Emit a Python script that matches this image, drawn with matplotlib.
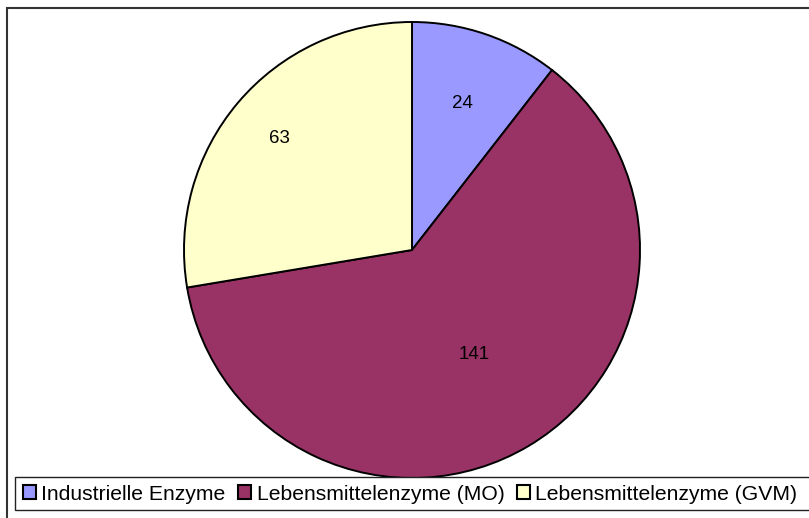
import matplotlib
matplotlib.use("Agg")
import matplotlib.pyplot as plt
from matplotlib.patches import Rectangle
import numpy as np

plt.rcParams['font.family'] = ['Liberation Sans', 'DejaVu Sans']

categories = ["Industrielle Enzyme", "Lebensmittelenzyme (MO)", "Lebensmittelenzyme (GVM)"]
values = [24, 141, 63]
colors = ["#9999FF", "#993366", "#FFFFCC"]
label_radius = [0.68, 0.535, 0.76]

W, H = 809, 518
fig = plt.figure(figsize=(W / 100, H / 100), dpi=100)
cx, cy, R = 412, 250, 228
ax = fig.add_axes([(cx - R) / W, 1 - (cy + R) / H, 2 * R / W, 2 * R / H])
wedges, texts = ax.pie(values, colors=colors, startangle=90, counterclock=False,
                       radius=1, labels=[str(v) for v in values], labeldistance=0.6,
                       wedgeprops=dict(edgecolor="black", linewidth=1.4),
                       textprops=dict(fontsize=13.5, color="black", ha="center", va="center"))
for w, t, rf in zip(wedges, texts, label_radius):
    ang = np.deg2rad((w.theta1 + w.theta2) / 2)
    t.set_position((rf * np.cos(ang), rf * np.sin(ang)))
    t.set_ha("center")
    t.set_va("center")
ax.set_xlim(-1, 1)
ax.set_ylim(-1, 1)
ax.set_aspect("equal")
ax.axis("off")

# outer chart border
fig.add_artist(Rectangle((7 / W, -0.1), 1.2, 1 - 8 / H + 0.1, transform=fig.transFigure,
                         fill=False, edgecolor="#333333", linewidth=1.5, zorder=0))
# legend frame
fig.add_artist(Rectangle((15 / W, 1 - 509.5 / H), 1.2, 33 / H, transform=fig.transFigure,
                         facecolor="white", edgecolor="#222222", linewidth=1.0, zorder=5))
leg = fig.legend(wedges, categories, loc="center left",
                 bbox_to_anchor=(23 / W, 1 - 494 / H), ncol=3, frameon=False,
                 fontsize=15.2, handlelength=0.62, handleheight=0.65, handletextpad=0.25,
                 columnspacing=0.6, borderpad=0, borderaxespad=0)
leg.set_zorder(6)
for h in leg.legend_handles:
    h.set_edgecolor("black")
    h.set_linewidth(1.5)

fig.savefig("out.png", dpi=100)
